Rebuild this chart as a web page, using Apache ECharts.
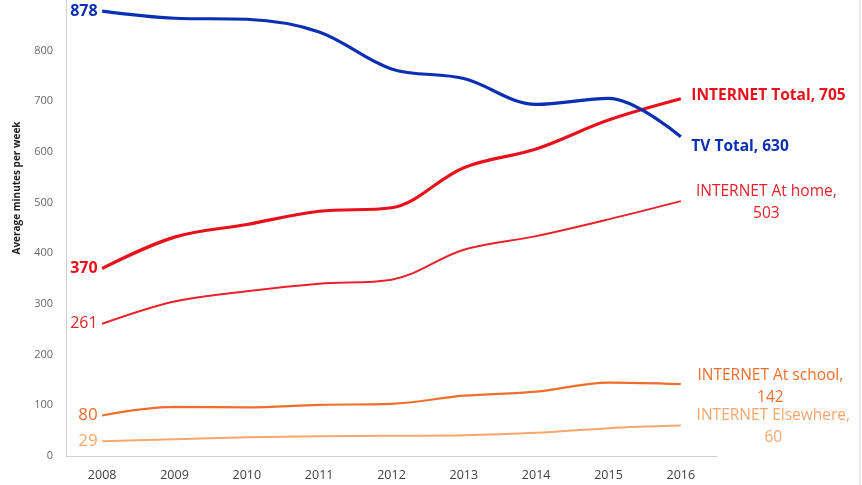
<!DOCTYPE html>
<html><head><meta charset="utf-8">
<script src="https://cdn.jsdelivr.net/npm/echarts@6/dist/echarts.min.js"></script>
<style>html,body{margin:0;padding:0;background:#fff}#c{width:862px;height:485px}</style>
</head><body><div id="c"></div>
<script>
var years = ['2008','2009','2010','2011','2012','2013','2014','2015','2016'];
var tvTotal = [878, 864, 862, 837, 764, 745, 694, 706, 630];
var netTotal = [370, 432, 457, 483, 490, 569, 606, 663, 705];
var netHome = [261, 305, 325, 340, 348, 407, 434, 467, 503];
var netSchool = [80, 97, 96, 101, 103, 119, 127, 145, 142];
var netElse = [29, 33, 37, 39, 40, 41, 46, 55, 60];
var yTicks = [0,100,200,300,400,500,600,700,800];

var FONT = '"Open Sans", "Noto Sans", sans-serif';

function mk(name, arr, color, width, endLbl, startBold, endBold, endCenter, endOffset, startSize) {
  var data = arr.map(function (v, i) {
    if (i === 0) {
      return { value: v, label: { show: true, position: 'left', distance: 4, formatter: String(v),
        color: color, fontSize: startSize || 16, fontWeight: startBold ? 'bold' : 'normal', fontFamily: FONT } };
    }
    if (i === arr.length - 1) {
      var l = { show: true, position: 'right', distance: 10, formatter: endLbl,
        color: color, fontSize: 15.5, fontWeight: endBold ? 'bold' : 'normal', fontFamily: FONT, lineHeight: 22 };
      if (endCenter) { l.align = 'center'; }
      l.offset = endOffset;
      return { value: v, label: l };
    }
    return v;
  });
  return { name: name, type: 'line', data: data, smooth: 0.35, symbol: 'circle', showSymbol: true,
    symbolSize: 1, showAllSymbol: true, lineStyle: { color: color, width: width },
    itemStyle: { color: 'rgba(0,0,0,0)', borderWidth: 0 }, z: 3 };
}

var chart = echarts.init(document.getElementById('c'));
chart.setOption({
  animation: false,
  grid: { left: 66, right: 145, top: -4.4, bottom: 29, containLabel: false },
  xAxis: { type: 'category', data: years, boundaryGap: true,
    axisLine: { lineStyle: { color: '#d0d0d0', width: 1 } }, axisTick: { show: false },
    axisLabel: { color: '#404040', fontSize: 12.5, fontFamily: FONT, margin: 13 } },
  yAxis: { type: 'value', min: 0, max: 900, interval: 100,
    axisLine: { show: true, lineStyle: { color: '#d0d0d0', width: 1 } }, axisTick: { show: false },
    splitLine: { show: false },
    axisLabel: { color: '#6a6a6a', fontSize: 11, fontFamily: FONT, margin: 13,
      formatter: function (v) { return yTicks.indexOf(v) >= 0 ? String(v) : ''; } } },
  graphic: [
    { type: 'text', rotation: Math.PI / 2, x: 17, y: 188, style: { text: 'Average minutes per week',
      fill: '#222', font: 'bold 10px ' + FONT, textAlign: 'center', textVerticalAlign: 'middle' } },
    { type: 'line', shape: { x1: 860, y1: 0, x2: 860, y2: 485 }, style: { stroke: '#d9d9d9', lineWidth: 1 } }
  ],
  series: [
    mk('INTERNET Elsewhere', netElse, '#f7a66e', 2, 'INTERNET Elsewhere,\n60', false, false, true, [82, 1], 17),
    mk('INTERNET At school', netSchool, '#ee6f2d', 2.2, 'INTERNET At school,\n142', false, false, true, [79, 3], 17),
    mk('INTERNET At home', netHome, '#e8222c', 2, 'INTERNET At home,\n503', false, false, true, [75, 1], 16),
    mk('INTERNET Total', netTotal, '#e8111b', 3.2, 'INTERNET Total, 705', true, true, false, [0, -3], 16),
    mk('TV Total', tvTotal, '#0b2fb2', 3.2, 'TV Total, 630', true, true, false, [0, 10], 16)
  ]
});
</script></body></html>
